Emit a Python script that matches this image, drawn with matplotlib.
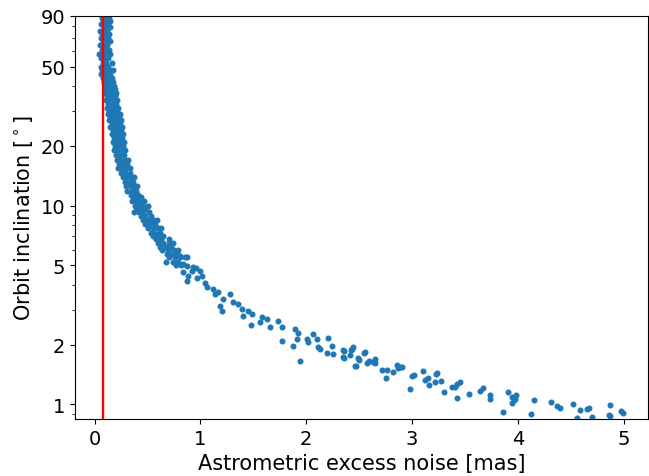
import numpy as np
import matplotlib
matplotlib.use("Agg")
from matplotlib import pyplot as plt
from matplotlib.ticker import NullFormatter

# points: dense upper band (inclination 90 -> 20 deg)
top_x = [0.09, 0.12, 0.07, 0.10, 0.14, 0.08, 0.12, 0.15, 0.06, 0.10, 0.13,
         0.09, 0.11, 0.15, 0.05, 0.08, 0.12, 0.07, 0.10, 0.14, 0.06, 0.09, 0.13,
         0.08, 0.11, 0.15, 0.05, 0.09, 0.12, 0.07, 0.10, 0.14, 0.04, 0.09, 0.12,
         0.15, 0.06, 0.10, 0.13, 0.08, 0.11, 0.16, 0.06, 0.09, 0.13,
         0.07, 0.10, 0.14, 0.17, 0.06, 0.11, 0.15, 0.08, 0.12, 0.16, 0.09, 0.13,
         0.17, 0.10, 0.14, 0.18, 0.11, 0.15, 0.19, 0.10, 0.13, 0.17, 0.20, 0.12,
         0.16, 0.19, 0.11, 0.14, 0.18, 0.21, 0.13, 0.17, 0.20, 0.12, 0.15, 0.19,
         0.22, 0.14, 0.18, 0.21,
         0.13, 0.17, 0.21, 0.24, 0.15, 0.19, 0.23, 0.14, 0.18, 0.22, 0.25, 0.16,
         0.20, 0.24, 0.15, 0.19, 0.23, 0.26, 0.17, 0.21, 0.25, 0.16, 0.20, 0.24,
         0.27, 0.18, 0.22, 0.26, 0.17, 0.21, 0.25, 0.28, 0.19, 0.23, 0.27]
top_y = [92, 92, 88, 88, 88, 85, 85, 85, 82, 82, 82,
         79, 79, 79, 76, 76, 76, 73, 73, 73, 70, 70, 70,
         67, 67, 67, 64, 64, 64, 61, 61, 61, 58, 58, 58,
         58, 55, 55, 55, 52, 52, 52, 50, 50, 50,
         48, 48, 48, 48, 46, 46, 46, 44, 44, 44, 42, 42,
         42, 40, 40, 40, 38.5, 38.5, 38.5, 37, 37, 37, 37, 35.5,
         35.5, 35.5, 34, 34, 34, 34, 32.5, 32.5, 32.5, 31, 31, 31,
         31, 30, 30, 30,
         29, 29, 29, 29, 28, 28, 28, 27, 27, 27, 27, 26,
         26, 26, 25, 25, 25, 25, 24, 24, 24, 23, 23, 23,
         23, 22, 22, 22, 21, 21, 21, 21, 20, 20, 20]

# middle band (20 -> 5 deg)
mid_x = [0.18, 0.22, 0.26, 0.29, 0.20, 0.24, 0.28, 0.21, 0.25, 0.29, 0.32,
         0.23, 0.27, 0.31, 0.22, 0.26, 0.30, 0.33, 0.25, 0.29, 0.33, 0.27, 0.31,
         0.34, 0.37, 0.29, 0.33, 0.36, 0.30, 0.34, 0.37, 0.40, 0.31, 0.35, 0.39,
         0.34, 0.38, 0.41,
         0.36, 0.40, 0.44, 0.35, 0.39, 0.43, 0.47, 0.38, 0.42, 0.46, 0.50, 0.40,
         0.44, 0.48, 0.37, 0.42, 0.46, 0.51, 0.44, 0.48, 0.53, 0.46, 0.50, 0.55,
         0.59, 0.48, 0.52, 0.57, 0.50, 0.55, 0.60, 0.63, 0.53, 0.57, 0.62, 0.55,
         0.60, 0.65, 0.58, 0.63, 0.70, 0.60, 0.65, 0.70, 0.74, 0.62, 0.67, 0.72,
         0.64, 0.69, 0.75, 0.79, 0.68, 0.73, 0.78, 0.70, 0.76, 0.81, 0.87, 0.676,
         0.74, 0.79, 0.77, 0.82]
mid_y = [19, 19, 19, 19, 18, 18, 18, 17, 17, 17, 17,
         16.2, 16.2, 16.2, 15.4, 15.4, 15.4, 15.4, 14.6, 14.6, 14.6, 13.9, 13.9,
         13.9, 13.9, 13.2, 13.2, 13.2, 12.5, 12.5, 12.5, 12.5, 11.9, 11.9, 11.9,
         11.3, 11.3, 11.3,
         11.0, 11.0, 11.0, 10.5, 10.5, 10.5, 10.5, 10.0, 10.0, 10.0, 10.0, 9.6,
         9.6, 9.6, 9.25, 9.25, 9.25, 9.25, 8.9, 8.9, 8.9, 8.5, 8.5, 8.5,
         8.5, 8.1, 8.1, 8.1, 7.7, 7.7, 7.7, 7.7, 7.3, 7.3, 7.3, 7.0,
         7.0, 7.0, 6.8, 6.8, 6.8, 6.5, 6.5, 6.5, 6.5, 6.2, 6.2, 6.2,
         6.0, 6.0, 6.0, 6.0, 5.7, 5.7, 5.7, 5.5, 5.5, 5.5, 5.5, 5.2,
         5.2, 5.2, 5.0, 5.0]

# lower band (5 -> 1.5 deg)
low_x = [0.855, 0.877, 0.934, 0.84, 0.887, 0.808, 0.834, 0.919, 0.96, 0.997,
         0.966, 0.871, 1.044, 1.013, 1.06, 1.123, 1.139, 1.17, 1.217, 1.186,
         1.202, 1.281, 1.312, 1.359, 1.391, 1.406, 1.454, 1.486, 1.479, 1.564,
         1.58, 1.633, 1.659, 1.737, 1.769, 1.769, 1.895, 1.926, 1.911, 1.879,
         1.942, 2.006, 2.021, 2.068, 2.10, 2.115, 2.131, 2.195, 2.21, 2.242,
         2.257, 2.352, 2.352, 2.431, 2.446, 2.493, 2.472,
         2.346, 2.346, 2.421, 2.415, 2.462, 2.503, 2.541, 2.557, 2.573, 2.597,
         2.635, 2.648, 2.651, 2.715, 2.762, 2.755, 2.819, 2.856, 2.866, 2.888,
         2.904]
low_y = [5.49, 4.99, 4.90, 4.62, 4.45, 5.59, 5.08, 4.70, 4.84, 4.70,
         4.35, 4.18, 4.10, 4.45, 3.88, 3.81, 3.59, 3.66, 3.39, 3.14,
         2.96, 3.59, 3.27, 3.20, 3.02, 2.79, 2.96, 2.85, 2.51, 2.59,
         2.74, 2.69, 2.45, 2.64, 2.45, 2.09, 2.40, 2.30, 2.13, 1.97,
         1.66, 2.13, 2.05, 2.26, 2.13, 1.94, 1.90, 1.82, 2.15, 1.97,
         1.79, 1.86, 1.72, 1.90, 1.94, 1.72, 1.57,
         1.88, 1.73, 1.88, 1.77, 1.57, 1.68, 1.81, 1.84, 1.62, 1.65,
         1.64, 1.70, 1.62, 1.49, 1.49, 1.36, 1.45, 1.58, 1.52, 1.54,
         1.54]

# sparse tail (x > 2.9 mas)
tail_x = [2.98, 3.00, 3.02, 3.10, 3.12, 3.15, 3.16, 3.22, 3.23, 3.24, 3.27,
          3.30, 3.38, 3.41, 3.42, 3.45, 3.42, 3.54, 3.64, 3.67, 3.74, 3.74,
          3.86, 3.91, 3.94, 3.96, 3.97, 3.98, 3.94, 4.12, 4.15, 4.31, 4.37,
          4.40, 4.52, 4.56, 4.59, 4.65, 4.67, 4.70, 4.87, 4.86, 4.87, 4.97,
          4.99]
tail_y = [1.19, 1.39, 1.41, 1.47, 1.33, 1.36, 1.25, 1.29, 1.42, 1.44, 1.31,
          1.16, 1.23, 1.22, 1.27, 1.29, 1.08, 1.13, 1.17, 1.21, 1.12, 1.06,
          0.92, 1.15, 1.09, 1.05, 1.07, 1.11, 1.02, 0.90, 1.05, 1.03, 0.98,
          0.96, 1.00, 0.85, 0.94, 0.95, 0.96, 0.86, 0.99, 0.89, 0.87, 0.93,
          0.91]

noise_limit = 0.083
ytick_vals = [1, 2, 5, 10, 20, 50, 90]

xs = np.array(top_x + mid_x + low_x + tail_x)
ys = np.array(top_y + mid_y + low_y + tail_y)

fig = plt.figure(figsize=(6.49, 4.77), dpi=100)
ax = fig.add_axes([0.1156, 0.1195, 0.883, 0.845])
ax.scatter(xs, ys, s=11, color="#1f77b4")
ax.axvline(noise_limit, color="red", lw=1.7)
ax.set_yscale("log")
ax.set_ylim(0.845, 90)
ax.set_xlim(-0.185, 5.23)
ax.set_yticks(ytick_vals)
ax.set_yticklabels([str(v) for v in ytick_vals])
ax.yaxis.set_minor_formatter(NullFormatter())
ax.tick_params(labelsize=14)
ax.set_xlabel("Astrometric excess noise [mas]", fontsize=15)
ax.set_ylabel(r"Orbit inclination [$^\circ$]", fontsize=15)
fig.savefig("out.png", dpi=100)
